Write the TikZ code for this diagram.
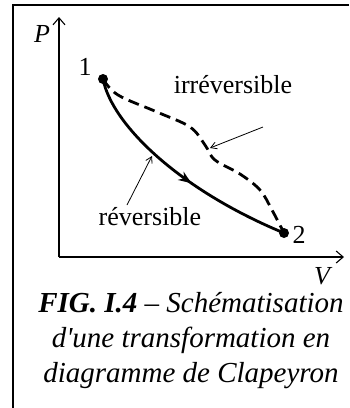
\documentclass[tikz,border=0pt]{standalone}
\usepackage{fontspec}
\setmainfont{Liberation Serif}
\usetikzlibrary{arrows.meta,decorations.markings}

\begin{document}
\begin{tikzpicture}[x=1pt,y=-1pt,
    every node/.style={font=\fontsize{26}{30}\selectfont,inner sep=0pt},
    axis/.style={line width=1.1pt,-{Straight Barb[length=7pt,width=12pt]}},
    pointer/.style={line width=0.8pt,-{Straight Barb[length=6pt,width=7pt]}},
    dot/.style={circle,fill=black,minimum size=10pt},
    revpath/.style={line width=2.8pt,postaction={decorate},
      decoration={markings,mark=at position 0.57 with {\arrow{Stealth[length=13pt,width=10pt]}}}},
    irrpath/.style={line width=2.8pt,dash pattern=on 11pt off 6pt}]
  \useasboundingbox (0,0) rectangle (349,408);
  \draw[line width=2.5pt] (349,5) -- (13,5) -- (13,408);
  \coordinate (O) at (59,257);
  \coordinate (Ptop) at (59,17);
  \coordinate (Vend) at (344,257);
  \draw[axis] (O) -- (Ptop);
  \draw[axis] (O) -- (Vend);
  \node[font=\fontsize{26}{30}\selectfont\itshape,anchor=base] (lP) at (42,42) {P};
  \node[font=\fontsize{26}{30}\selectfont\itshape,anchor=base] (lV) at (322,284) {V};
  \node[dot] (p1) at (103,79) {};
  \node[dot] (p2) at (284,233) {};
  \node[anchor=base] (l1) at (85,75) {1};
  \node[anchor=base] (l2) at (299,243) {2};
  \draw[irrpath] plot[smooth,tension=0.6] coordinates {(103,79) (118,95) (157,112) (190,127) (205,145) (215,160) (240,174) (260,190) (272,210) (284,233)};
  \draw[revpath] (p1.center) .. controls (112,125) and (180,190) .. (p2.center);
  \node[anchor=base] (lirr) at (233,93) {irréversible};
  \node[anchor=base] (lrev) at (150,225) {réversible};
  \coordinate (irrtail) at (263,127);
  \coordinate (irrtip) at (210,148);
  \coordinate (revtail) at (127,205);
  \coordinate (revtip) at (152,156);
  \draw[pointer] (irrtail) -- (irrtip);
  \draw[pointer] (revtail) -- (revtip);
  \node[align=center,font=\fontsize{29}{35}\selectfont\itshape,anchor=base] (cap) at (191,382)
    {\textbf{FIG. I.4} – Schématisation\\d\textquotesingle une transformation en\\diagramme de Clapeyron};
\end{tikzpicture}
\end{document}
